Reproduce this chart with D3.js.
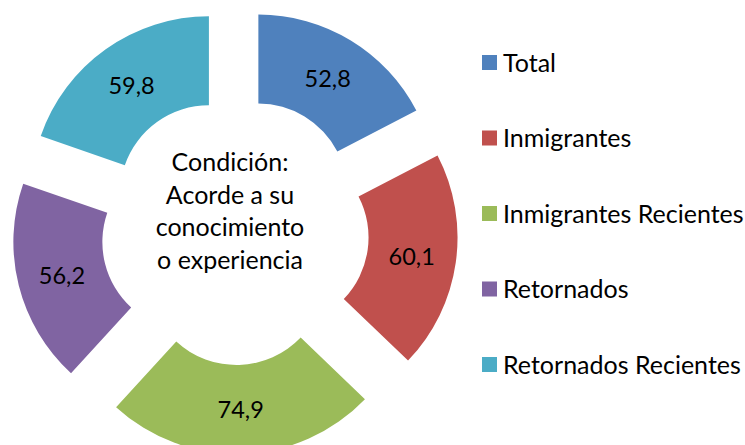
<!DOCTYPE html>
<html>

<head>
    <meta charset='utf-8'>
    <title>Condicion</title>
    <script type='text/javascript' src='https://cdn.jsdelivr.net/npm/d3@7'></script>
    <style>
        body { margin: 0; background: #fff; }
        text { font-family: Lato, 'Open Sans', sans-serif; fill: #000; }
    </style>
</head>

<body>
    <svg width='745' height='445'></svg>
    <script type='text/javascript'>

        const categories = ['Total', 'Inmigrantes', 'Inmigrantes Recientes', 'Retornados', 'Retornados Recientes']
        const values = [52.8, 60.1, 74.9, 56.2, 59.8]
        const colors = ['#4F81BD', '#C0504D', '#9BBB59', '#8064A2', '#4BACC6']
        const centerLines = ['Condición:', 'Acorde a su', 'conocimiento', 'o experiencia']

        const svg = d3.select('svg')
        const center = { x: 235, y: 231 }
        const outerR = 178
        const innerR = 89
        const explode = 45

        const fmt = d3.formatLocale({ decimal: ',', thousands: '.', grouping: [3], currency: ['', ''] }).format('.1f')

        const pie = d3.pie().sort(null).value(d => d)
        const arc = d3.arc().innerRadius(innerR).outerRadius(outerR)
        const arcs = pie(values)

        const g = svg.append('g').attr('transform', `translate(${center.x},${center.y})`)

        const slices = g.selectAll('g.slice')
            .data(arcs)
            .enter()
            .append('g')
            .attr('class', 'slice')
            .attr('transform', d => {
                const a = (d.startAngle + d.endAngle) / 2
                return `translate(${explode * Math.sin(a)},${-explode * Math.cos(a)})`
            })

        slices.append('path')
            .attr('d', arc)
            .attr('fill', (d, i) => colors[i])

        slices.append('text')
            .attr('transform', d => `translate(${arc.centroid(d)})`)
            .attr('text-anchor', 'middle')
            .attr('dy', '0.38em')
            .attr('font-size', 23.5)
            .text(d => fmt(d.data))

        // center caption
        g.append('text')
            .attr('text-anchor', 'middle')
            .attr('font-size', 25)
            .selectAll('tspan')
            .data(centerLines)
            .enter()
            .append('tspan')
            .attr('x', -5)
            .attr('y', (d, i) => -60 + i * 32.5)
            .text(d => d)

        // legend
        const legend = svg.append('g').attr('transform', 'translate(482,0)')
        const rows = legend.selectAll('g')
            .data(categories)
            .enter()
            .append('g')
            .attr('transform', (d, i) => `translate(0,${62.5 + i * 75.5})`)

        rows.append('rect')
            .attr('x', 0)
            .attr('y', -7.5)
            .attr('width', 15)
            .attr('height', 15)
            .attr('fill', (d, i) => colors[i])

        rows.append('text')
            .attr('x', 21)
            .attr('dy', '0.36em')
            .attr('font-size', 25)
            .text(d => d)
    </script>
</body>

</html>
